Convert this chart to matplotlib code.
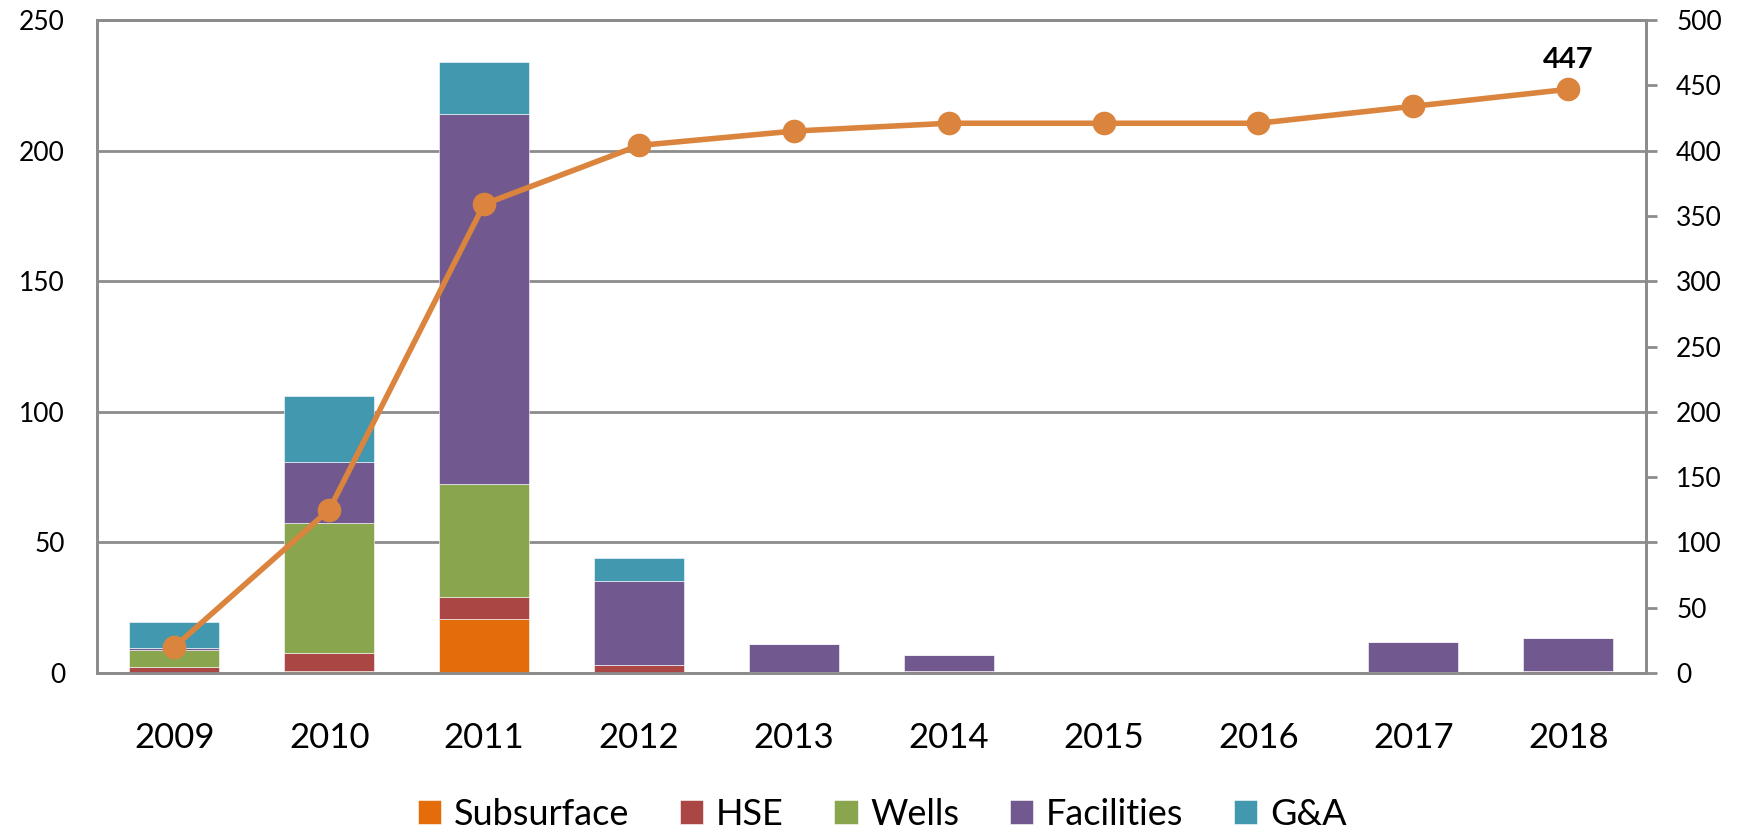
import matplotlib
matplotlib.use('Agg')
import matplotlib.pyplot as plt
import numpy as np

years = ['2009', '2010', '2011', '2012', '2013', '2014', '2015', '2016', '2017', '2018']
subsurface = [0.0, 0.9, 20.5, 0.0, 0.0, 0.0, 0.0, 0.0, 0.0, 0.0]
hse        = [2.3, 6.8, 8.4, 3.1, 0.3, 0.8, 0.0, 0.0, 0.3, 0.8]
wells      = [6.5, 49.8, 43.5, 0.0, 0.0, 0.0, 0.0, 0.0, 0.0, 0.0]
facilities = [0.7, 23.4, 141.8, 32.2, 10.8, 6.2, 0.0, 0.0, 11.4, 12.5]
g_and_a    = [10.0, 25.1, 19.6, 8.6, 0.0, 0.0, 0.0, 0.0, 0.0, 0.0]
cumulative = [20, 125, 359, 404, 415, 421, 421, 421, 434, 447]

series = [('Subsurface', subsurface, '#E46C0A'),
          ('HSE', hse, '#AA4643'),
          ('Wells', wells, '#89A54E'),
          ('Facilities', facilities, '#71588F'),
          ('G&A', g_and_a, '#4198AF')]

plt.rcParams['font.family'] = ['Lato', 'DejaVu Sans']
GRID = '#8c8c8c'

fig = plt.figure(figsize=(17.44, 8.38), dpi=100)
ax1 = fig.add_axes([0.0556, 0.197, 0.888, 0.779])
ax2 = ax1.twinx()

x = np.arange(len(years))
bottom = np.zeros(len(years))
for name, vals, col in series:
    ax1.bar(x, vals, 0.58, bottom=bottom, color=col, label=name,
            edgecolor='white', linewidth=0.4, zorder=3)
    bottom += np.array(vals)

ax1.set_ylim(0, 250)
ax1.set_yticks(np.arange(0, 251, 50))
ax1.set_xlim(-0.5, len(years) - 0.5)
ax1.set_xticks(x)
ax1.set_xticklabels(years)
ax1.grid(which='major', axis='y', color=GRID, linewidth=2, zorder=0)
ax1.set_axisbelow(True)

ax2.plot(x, cumulative, color='#DB843D', linewidth=4, marker='o',
         markersize=16, zorder=5)
ax2.set_ylim(0, 500)
ax2.set_yticks(np.arange(0, 501, 50))
ax2.annotate(str(cumulative[-1]), (x[-1], cumulative[-1]), xytext=(0, 12),
             textcoords='offset points', ha='center', va='bottom',
             fontsize=21, fontweight='bold')

for ax in (ax1, ax2):
    for s in ax.spines.values():
        s.set_color(GRID)
        s.set_linewidth(2)
ax1.tick_params(axis='y', length=0, labelsize=19, pad=23)
ax1.tick_params(axis='x', length=0, labelsize=25, pad=35)
ax2.tick_params(axis='y', length=8, width=2, color=GRID, labelsize=19, pad=14)

ax1.legend(loc='lower center', bbox_to_anchor=(0.507, -0.292), ncol=5,
           frameon=False, fontsize=26, handlelength=0.65, handleheight=0.65,
           handletextpad=0.35, columnspacing=1.4)

plt.savefig('out.png', dpi=100)
